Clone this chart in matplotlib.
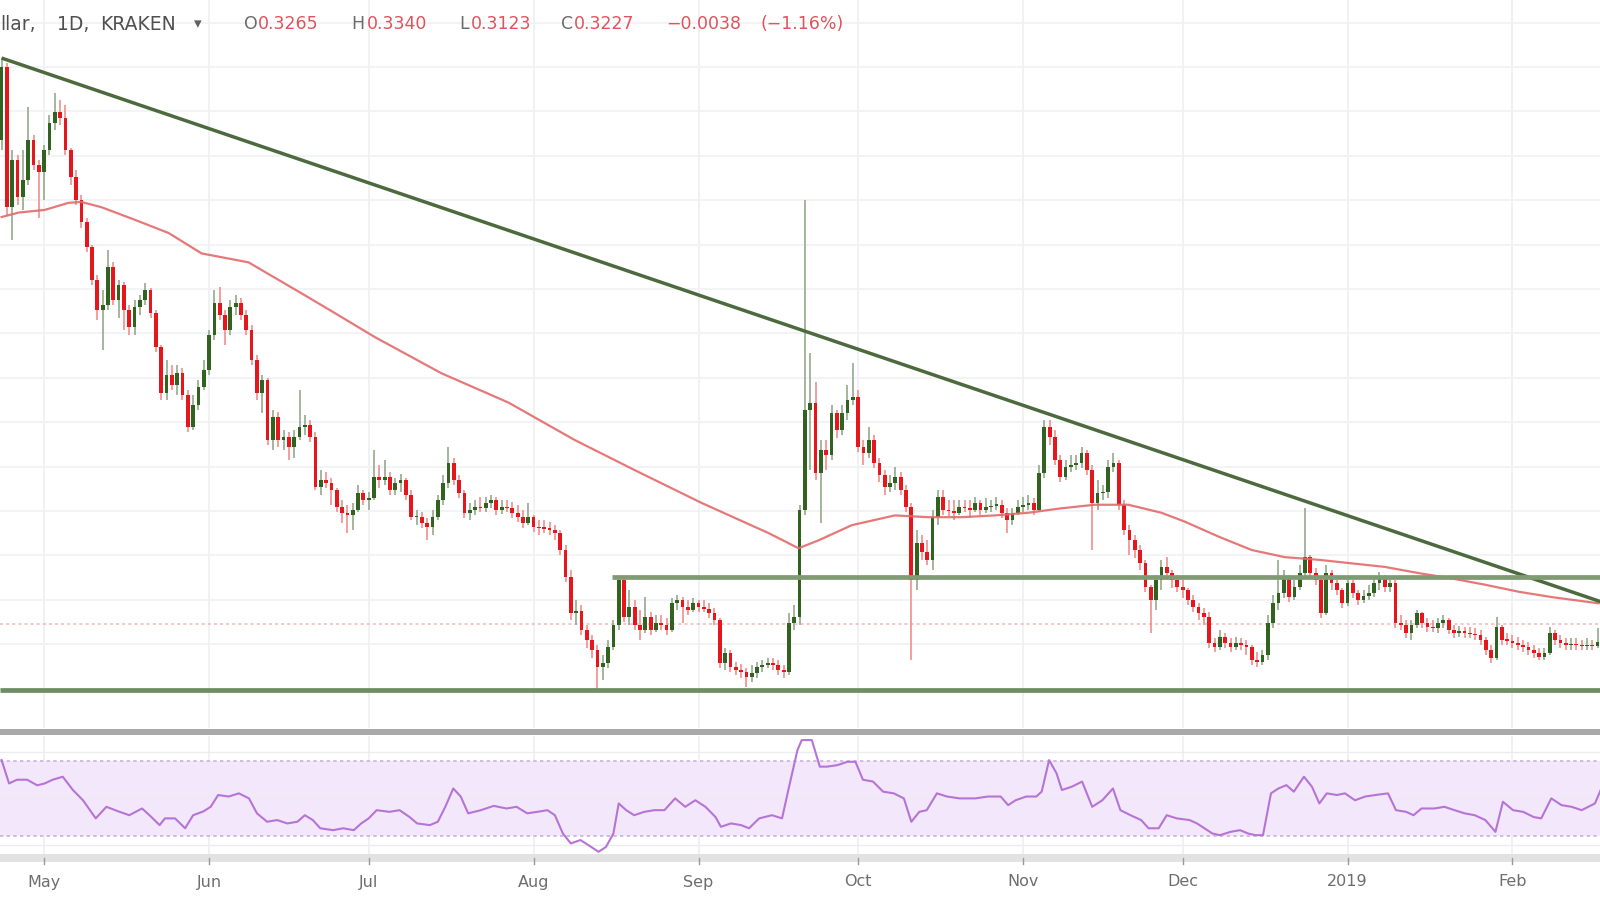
import numpy as np
import pandas as pd
import matplotlib
matplotlib.use("Agg")
import matplotlib.pyplot as plt
import matplotlib.dates as mdates
from matplotlib.lines import Line2D
from matplotlib.patches import Rectangle

# --- daily candles (first candle = 2018-04-23) ---
start = "2018-04-23"
first_open = 0.868

close = [
    0.950, 0.792, 0.845, 0.804, 0.823, 0.868, 0.840, 0.832, 0.857, 0.887,
    0.899, 0.893, 0.857, 0.826, 0.800, 0.775, 0.747, 0.710, 0.676, 0.682,
    0.725, 0.688, 0.704, 0.676, 0.657, 0.680, 0.688, 0.699, 0.673, 0.635,
    0.583, 0.603, 0.592, 0.605, 0.581, 0.545, 0.569, 0.590, 0.609, 0.648,
    0.684, 0.671, 0.654, 0.680, 0.684, 0.671, 0.654, 0.620, 0.583, 0.597,
    0.530, 0.556, 0.530, 0.533, 0.522, 0.533, 0.545, 0.547, 0.533, 0.477,
    0.485, 0.481, 0.474, 0.454, 0.448, 0.445, 0.451, 0.470, 0.462, 0.465,
    0.488, 0.485, 0.488, 0.474, 0.481, 0.485, 0.468, 0.443, 0.443, 0.436,
    0.432, 0.443, 0.462, 0.481, 0.504, 0.485, 0.470, 0.448, 0.451, 0.454,
    0.453, 0.459, 0.462, 0.451, 0.454, 0.453, 0.448, 0.443, 0.436, 0.443,
    0.432, 0.431, 0.430, 0.429, 0.425, 0.406, 0.376, 0.335, 0.337, 0.316,
    0.305, 0.293, 0.274, 0.279, 0.297, 0.322, 0.372, 0.331, 0.342, 0.322,
    0.316, 0.331, 0.316, 0.324, 0.322, 0.316, 0.346, 0.350, 0.342, 0.338,
    0.346, 0.342, 0.340, 0.335, 0.327, 0.279, 0.290, 0.274, 0.271, 0.269,
    0.263, 0.268, 0.274, 0.277, 0.279, 0.277, 0.271, 0.269, 0.324, 0.331,
    0.451, 0.564, 0.572, 0.493, 0.519, 0.513, 0.560, 0.541, 0.560, 0.575,
    0.578, 0.522, 0.515, 0.530, 0.504, 0.490, 0.477, 0.481, 0.488, 0.474,
    0.454, 0.372, 0.414, 0.404, 0.395, 0.443, 0.466, 0.451, 0.450, 0.448,
    0.454, 0.453, 0.451, 0.459, 0.451, 0.454, 0.456, 0.457, 0.448, 0.440,
    0.448, 0.454, 0.457, 0.459, 0.451, 0.493, 0.545, 0.533, 0.507, 0.488,
    0.500, 0.502, 0.504, 0.515, 0.496, 0.459, 0.470, 0.471, 0.500, 0.504,
    0.457, 0.429, 0.417, 0.406, 0.391, 0.364, 0.350, 0.372, 0.387, 0.380,
    0.372, 0.364, 0.361, 0.350, 0.342, 0.335, 0.331, 0.301, 0.297, 0.308,
    0.301, 0.297, 0.301, 0.299, 0.297, 0.282, 0.280, 0.288, 0.324, 0.346,
    0.358, 0.376, 0.353, 0.364, 0.380, 0.398, 0.380, 0.372, 0.335, 0.380,
    0.369, 0.361, 0.346, 0.369, 0.358, 0.350, 0.354, 0.358, 0.369, 0.374,
    0.364, 0.369, 0.324, 0.322, 0.313, 0.322, 0.335, 0.324, 0.319, 0.318,
    0.324, 0.327, 0.316, 0.313, 0.314, 0.313, 0.311, 0.310, 0.305, 0.293,
    0.284, 0.319, 0.305, 0.304, 0.301, 0.299, 0.297, 0.293, 0.290, 0.285,
    0.290, 0.313, 0.305, 0.301, 0.299, 0.300, 0.299, 0.298, 0.299, 0.298,
    0.302,
]

high = [
    0.960, 0.955, 0.857, 0.851, 0.857, 0.905, 0.873, 0.845, 0.862, 0.896,
    0.921, 0.913, 0.907, 0.859, 0.834, 0.806, 0.780, 0.750, 0.716, 0.699,
    0.744, 0.730, 0.710, 0.708, 0.682, 0.688, 0.693, 0.707, 0.701, 0.676,
    0.637, 0.620, 0.614, 0.614, 0.611, 0.586, 0.581, 0.597, 0.620, 0.654,
    0.699, 0.702, 0.676, 0.688, 0.693, 0.690, 0.676, 0.659, 0.626, 0.603,
    0.600, 0.564, 0.561, 0.541, 0.539, 0.541, 0.586, 0.558, 0.552, 0.539,
    0.496, 0.494, 0.487, 0.476, 0.462, 0.457, 0.459, 0.479, 0.474, 0.471,
    0.519, 0.502, 0.507, 0.494, 0.487, 0.492, 0.487, 0.474, 0.451, 0.449,
    0.442, 0.451, 0.468, 0.490, 0.522, 0.510, 0.490, 0.474, 0.459, 0.462,
    0.466, 0.466, 0.468, 0.466, 0.462, 0.462, 0.460, 0.457, 0.451, 0.459,
    0.445, 0.440, 0.440, 0.438, 0.434, 0.429, 0.412, 0.383, 0.350, 0.344,
    0.322, 0.310, 0.299, 0.288, 0.305, 0.327, 0.376, 0.374, 0.361, 0.350,
    0.338, 0.353, 0.336, 0.333, 0.333, 0.330, 0.352, 0.355, 0.353, 0.350,
    0.352, 0.350, 0.350, 0.346, 0.341, 0.330, 0.296, 0.293, 0.280, 0.278,
    0.273, 0.277, 0.280, 0.282, 0.284, 0.284, 0.282, 0.277, 0.335, 0.344,
    0.457, 0.800, 0.628, 0.595, 0.530, 0.530, 0.569, 0.564, 0.569, 0.592,
    0.617, 0.586, 0.530, 0.545, 0.536, 0.510, 0.496, 0.490, 0.500, 0.494,
    0.479, 0.459, 0.429, 0.423, 0.417, 0.451, 0.474, 0.474, 0.462, 0.462,
    0.462, 0.462, 0.462, 0.466, 0.462, 0.465, 0.462, 0.466, 0.462, 0.453,
    0.453, 0.462, 0.466, 0.468, 0.465, 0.502, 0.552, 0.552, 0.541, 0.513,
    0.507, 0.513, 0.513, 0.522, 0.519, 0.502, 0.485, 0.479, 0.507, 0.515,
    0.507, 0.462, 0.434, 0.423, 0.412, 0.395, 0.367, 0.378, 0.395, 0.398,
    0.383, 0.378, 0.372, 0.363, 0.355, 0.346, 0.341, 0.336, 0.307, 0.316,
    0.313, 0.307, 0.308, 0.307, 0.305, 0.299, 0.291, 0.293, 0.333, 0.355,
    0.395, 0.383, 0.378, 0.372, 0.389, 0.453, 0.400, 0.386, 0.374, 0.389,
    0.383, 0.372, 0.363, 0.374, 0.372, 0.361, 0.361, 0.367, 0.374, 0.381,
    0.378, 0.374, 0.372, 0.333, 0.327, 0.327, 0.338, 0.336, 0.330, 0.327,
    0.330, 0.333, 0.330, 0.322, 0.320, 0.319, 0.319, 0.318, 0.316, 0.308,
    0.299, 0.331, 0.322, 0.313, 0.310, 0.308, 0.305, 0.302, 0.299, 0.296,
    0.296, 0.319, 0.316, 0.310, 0.307, 0.307, 0.307, 0.305, 0.307, 0.305,
    0.318,
]

low = [
    0.857, 0.783, 0.755, 0.795, 0.789, 0.817, 0.834, 0.780, 0.800, 0.851,
    0.879, 0.885, 0.851, 0.817, 0.795, 0.769, 0.742, 0.704, 0.665, 0.631,
    0.676, 0.682, 0.667, 0.654, 0.648, 0.648, 0.671, 0.682, 0.667, 0.629,
    0.575, 0.575, 0.586, 0.581, 0.575, 0.539, 0.541, 0.564, 0.586, 0.603,
    0.643, 0.665, 0.637, 0.648, 0.671, 0.665, 0.648, 0.614, 0.575, 0.560,
    0.524, 0.519, 0.522, 0.519, 0.507, 0.510, 0.530, 0.536, 0.528, 0.474,
    0.468, 0.476, 0.457, 0.449, 0.436, 0.425, 0.429, 0.449, 0.457, 0.451,
    0.462, 0.476, 0.479, 0.468, 0.468, 0.471, 0.462, 0.440, 0.434, 0.431,
    0.417, 0.423, 0.440, 0.457, 0.476, 0.479, 0.465, 0.442, 0.440, 0.445,
    0.449, 0.449, 0.453, 0.445, 0.447, 0.449, 0.442, 0.438, 0.431, 0.434,
    0.426, 0.423, 0.425, 0.423, 0.417, 0.400, 0.370, 0.327, 0.322, 0.310,
    0.296, 0.284, 0.248, 0.260, 0.273, 0.293, 0.316, 0.325, 0.322, 0.316,
    0.305, 0.313, 0.310, 0.314, 0.316, 0.310, 0.314, 0.338, 0.324, 0.333,
    0.336, 0.336, 0.336, 0.330, 0.322, 0.273, 0.271, 0.269, 0.265, 0.262,
    0.252, 0.257, 0.262, 0.269, 0.273, 0.271, 0.265, 0.262, 0.265, 0.316,
    0.322, 0.445, 0.496, 0.485, 0.436, 0.496, 0.507, 0.532, 0.536, 0.552,
    0.569, 0.516, 0.502, 0.510, 0.498, 0.483, 0.468, 0.471, 0.474, 0.468,
    0.449, 0.282, 0.361, 0.395, 0.389, 0.383, 0.434, 0.445, 0.444, 0.440,
    0.445, 0.449, 0.442, 0.449, 0.445, 0.448, 0.449, 0.451, 0.442, 0.425,
    0.434, 0.445, 0.449, 0.451, 0.445, 0.449, 0.487, 0.524, 0.502, 0.483,
    0.485, 0.494, 0.496, 0.498, 0.490, 0.406, 0.451, 0.462, 0.465, 0.494,
    0.451, 0.423, 0.400, 0.397, 0.383, 0.359, 0.313, 0.338, 0.361, 0.372,
    0.363, 0.359, 0.352, 0.344, 0.336, 0.327, 0.322, 0.296, 0.291, 0.293,
    0.296, 0.291, 0.293, 0.293, 0.288, 0.277, 0.274, 0.277, 0.282, 0.318,
    0.338, 0.352, 0.347, 0.350, 0.361, 0.374, 0.374, 0.367, 0.330, 0.333,
    0.361, 0.355, 0.341, 0.343, 0.352, 0.344, 0.346, 0.350, 0.353, 0.361,
    0.359, 0.359, 0.318, 0.316, 0.307, 0.305, 0.318, 0.318, 0.314, 0.314,
    0.313, 0.318, 0.311, 0.307, 0.308, 0.307, 0.307, 0.305, 0.299, 0.288,
    0.279, 0.282, 0.299, 0.299, 0.296, 0.293, 0.291, 0.288, 0.284, 0.282,
    0.282, 0.288, 0.299, 0.296, 0.293, 0.293, 0.293, 0.293, 0.293, 0.293,
    0.296,
]

# moving average (red curve), day offset from start -> value
ma_day = [0, 3.2, 8.1, 12.6, 15, 18.8, 25, 31.4, 37.6, 46.4, 56.4, 62.6, 70.1,
          82.7, 95.3, 107.7, 119, 131.6, 144.2, 149.8, 153.6, 159.8, 167.9,
          174.2, 180.5, 186.7, 193, 199.2, 205.5, 211.8, 218, 222.4, 228.8,
          235, 241.2, 247.6, 253.8, 260, 266.4, 272.6, 278.8, 285.2, 291.4, 300.2]
ma_val = [0.781, 0.786, 0.789, 0.797, 0.798, 0.792, 0.778, 0.763, 0.740, 0.730,
          0.695, 0.673, 0.646, 0.605, 0.572, 0.530, 0.496, 0.459, 0.425, 0.408,
          0.417, 0.434, 0.445, 0.443, 0.443, 0.445, 0.448, 0.453, 0.457, 0.457,
          0.448, 0.438, 0.421, 0.406, 0.398, 0.395, 0.391, 0.387, 0.380, 0.374,
          0.367, 0.359, 0.353, 0.346]

# RSI pane
rsi_day = [0, 1.4, 2.9, 4.8, 6.7, 8.1, 9.6, 11.5, 13.4, 15.3, 17.7, 19.7, 22, 24,
           26.4, 27.8, 29.7, 30.7, 32.6, 34.5, 36, 37.9, 39.3, 40.7, 42.7, 44.6,
           46.5, 48, 49.9, 51.8, 53.7, 55.6, 57, 58.5, 59.9, 62.3, 64.2, 66.2,
           67.6, 69, 70.5, 72.9, 74.8, 76.7, 78.1, 80.5, 82, 83.4, 84.9, 86.3,
           87.7, 90.1, 92.5, 94.9, 96.8, 98.8, 100.7, 102.6, 104, 105.5, 107,
           108.8, 110.3, 112.2, 113.6, 115, 116, 117.4, 118.9, 120.8, 122.7,
           124.6, 126.6, 128.5, 130.4, 132.3, 134.2, 135.2, 137.1, 139, 140.5,
           142.4, 144.8, 146.7, 148, 149.6, 150.4, 152.3, 153.8, 155.2, 157.1,
           159, 160.5, 161.9, 163.8, 165.7, 167.7, 169.6, 171, 172.5, 173.9,
           175.8, 177.7, 180.1, 183, 185.4, 187.8, 189.2, 190.6, 192.6, 194.5,
           195.5, 196.9, 198.3, 199.3, 201.2, 203.1, 205, 206.9, 208.9, 210.3,
           212.2, 214.2, 215.6, 217.5, 219, 220.9, 223.3, 224.7, 226.1, 227.6,
           229, 231, 232.8, 234.3, 235.7, 237.1, 238.6, 240, 241.5, 242.9, 244.8,
           246.3, 247.7, 249.1, 251, 252.5, 254.4, 256.3, 258.2, 260.6, 262.1,
           264, 265.4, 266.9, 269.3, 271.2, 273.1, 275, 276.9, 278.9, 280.8,
           282.2, 284.1, 286, 288, 289.4, 291.3, 293.2, 295.1, 297, 299.5, 300.7]
rsi_val = [70.5, 58, 60, 60, 57, 58, 60, 61.6, 54.5, 49, 39.3, 45.5, 43, 41,
           44.6, 41, 35.7, 39.3, 39.3, 34, 41, 43, 45.5, 51.8, 51, 52.7,
           50, 42, 37.5, 38.4, 36.6, 37.5, 41, 38.4, 34, 33, 34, 33,
           36.6, 39.3, 43.7, 42.8, 43.7, 40, 36.6, 35.7, 37.5, 45.5, 55.3, 51,
           42, 43.7, 46, 44.6, 45.5, 42, 42.8, 43.7, 41, 31.2, 25.9,
           27.7, 25, 21.4, 24, 31.2, 47.3, 43.7, 41, 42.8, 43.7,
           43.7, 50, 45.5, 49, 45.5, 40, 34.8, 36.6, 35.7, 34,
           39.3, 41, 39.3, 56, 75.9, 81.2, 81.2, 67, 67, 67.8,
           69.6, 69.6, 60, 59, 53.6, 52.7, 50, 37.5, 42.8, 43.7,
           52.7, 51, 50, 50, 51, 51, 46.4, 49, 51, 51,
           53.6, 70.5, 63.4, 54.5, 56.3, 59, 45.5, 49, 55.3, 43.7,
           41, 38.4, 34, 34, 41, 39.3, 38.4, 36.6, 34, 31.2,
           30.3, 32.1, 33, 31.2, 30.3, 30.3, 52.7, 55.3, 57.1, 53.6, 61.6,
           56.3, 47.3, 52.7, 51.8, 52.7, 49, 51, 51.8, 52.7, 43.7,
           42.8, 41, 44.6, 44.6, 45.5, 43.7, 42, 41, 38.4, 32.1,
           48.2, 43.7, 42.8, 40, 39.3, 50, 46.4, 45.5, 43.7, 47.3, 55.3]

# drawn lines
trend_day = [0, 300.75]
trend_val = [0.960, 0.3475]
support = 0.2484
resistance = 0.376
resistance_from = 114.7
last_price = 0.3227

month_starts = ["2018-05-01", "2018-06-01", "2018-07-01", "2018-08-01", "2018-09-01",
                "2018-10-01", "2018-11-01", "2018-12-01", "2019-01-01", "2019-02-01"]
month_labels = ["May", "Jun", "Jul", "Aug", "Sep", "Oct", "Nov", "Dec", "2019", "Feb"]

# ------------------------------------------------------------------
close = np.array(close)
high = np.array(high)
low = np.array(low)
opens = np.concatenate([[first_open], close[:-1]])
dates = pd.date_range(start, periods=len(close), freq="D")
x = mdates.date2num(dates)
x0 = x[0]
xmin = x0 - 0.3
xmax = xmin + 300.75
months = mdates.date2num(pd.to_datetime(month_starts))

up_col, dn_col = "#32621f", "#e5161c"
up_wick, dn_wick = "#93aa8c", "#f08d8d"
is_up = close >= opens

fig = plt.figure(figsize=(16, 9), dpi=100)
fig.patch.set_facecolor("white")

ax = fig.add_axes([0, 172 / 900, 1, 728 / 900])
ax_rsi = fig.add_axes([0, 45 / 900, 1, 119 / 900])

for a in (ax, ax_rsi):
    a.set_xlim(xmin, xmax)
    for s in a.spines.values():
        s.set_visible(False)
    a.set_xticks([])
    a.set_yticks([])
    for m in months:
        a.axvline(m, color="#eeeff3", lw=1.2, zorder=0)

ax.set_ylim(0.2056, 1.0254)
for g in np.arange(0.25, 1.01, 0.05):
    ax.axhline(g, color="#f0f1f4", lw=1.2, zorder=0)

# last price line
ax.axhline(last_price, color="#f2b6b6", lw=1.1, ls=(0, (2, 2)), zorder=1)

# candles
ax.vlines(x, low, high, colors=np.where(is_up, up_wick, dn_wick), lw=1.2, zorder=2)
body = np.maximum(np.abs(close - opens), 0.0015)
ax.bar(x, body, bottom=np.minimum(opens, close), width=0.7,
       color=np.where(is_up, up_col, dn_col), zorder=3, linewidth=0)

# moving average
ax.plot(x0 + np.array(ma_day), ma_val, color="#e36a6a", lw=1.6, alpha=0.9, zorder=3.5)

# trend / horizontal lines
ax.plot(x0 + np.array(trend_day), trend_val, color="#4c6a3d", lw=2.5,
        solid_capstyle="butt", zorder=4)
ax.hlines(support, xmin, xmax, color="#6f8c62", lw=3.4, zorder=4)
ax.hlines(resistance, x0 + resistance_from, xmax, color="#809a74", lw=3.4, zorder=4)

# RSI pane
ax_rsi.set_ylim(19.7, 83.4)
ax_rsi.axhspan(30, 70, color="#f3e7fb", lw=0, zorder=0)
for g in (75, 50, 25):
    ax_rsi.axhline(g, color="#ececf0", lw=1.0, zorder=0.5)
for lvl in (70, 30):
    ax_rsi.axhline(lvl, color="#c8b3d8", lw=1.2, ls=(0, (2, 2)), zorder=1)
ax_rsi.plot(x0 + np.array(rsi_day), rsi_val, color="#b574d6", lw=1.5, zorder=2)

# pane separator and time axis band
fig.add_artist(Rectangle((0, 1 - 735 / 900), 1, 6 / 900, transform=fig.transFigure,
                         color="#a9a9a9", lw=0))
fig.add_artist(Rectangle((0, 1 - 862 / 900), 1, 8 / 900, transform=fig.transFigure,
                         color="#e2e2e2", lw=0))
for m, lab in zip(months, month_labels):
    fx = (m - xmin) / (xmax - xmin)
    fig.add_artist(Line2D([fx, fx], [1 - 858 / 900, 1 - 864 / 900],
                          transform=fig.transFigure, color="#9a9a9a", lw=1))
    fig.text(fx, 1 - 882 / 900, lab, ha="center", va="center",
             fontsize=11.5, color="#6e6e6e", family="DejaVu Sans")

# header legend
hy = 1 - 24 / 900
pieces = [
    ("llar,", 0, "#505050", 13.5),
    ("1D,", 57, "#505050", 13.5),
    ("KRAKEN", 100, "#505050", 13.5),
    ("\u25be", 194, "#606060", 11),
    ("O", 244, "#6a6a6a", 12.5),
    ("0.3265", 258, "#e0525c", 12.5),
    ("H", 351, "#6a6a6a", 12.5),
    ("0.3340", 367, "#e0525c", 12.5),
    ("L", 459, "#6a6a6a", 12.5),
    ("0.3123", 471, "#e0525c", 12.5),
    ("C", 561, "#6a6a6a", 12.5),
    ("0.3227", 574, "#e0525c", 12.5),
    ("\u22120.0038", 666, "#e0525c", 12.5),
    ("(\u22121.16%)", 761, "#e0525c", 12.5),
]
for txt, px, col, fs in pieces:
    fig.text(px / 1600, hy, txt, ha="left", va="center", fontsize=fs, color=col,
             family="DejaVu Sans")

fig.savefig("out.png", dpi=100)
